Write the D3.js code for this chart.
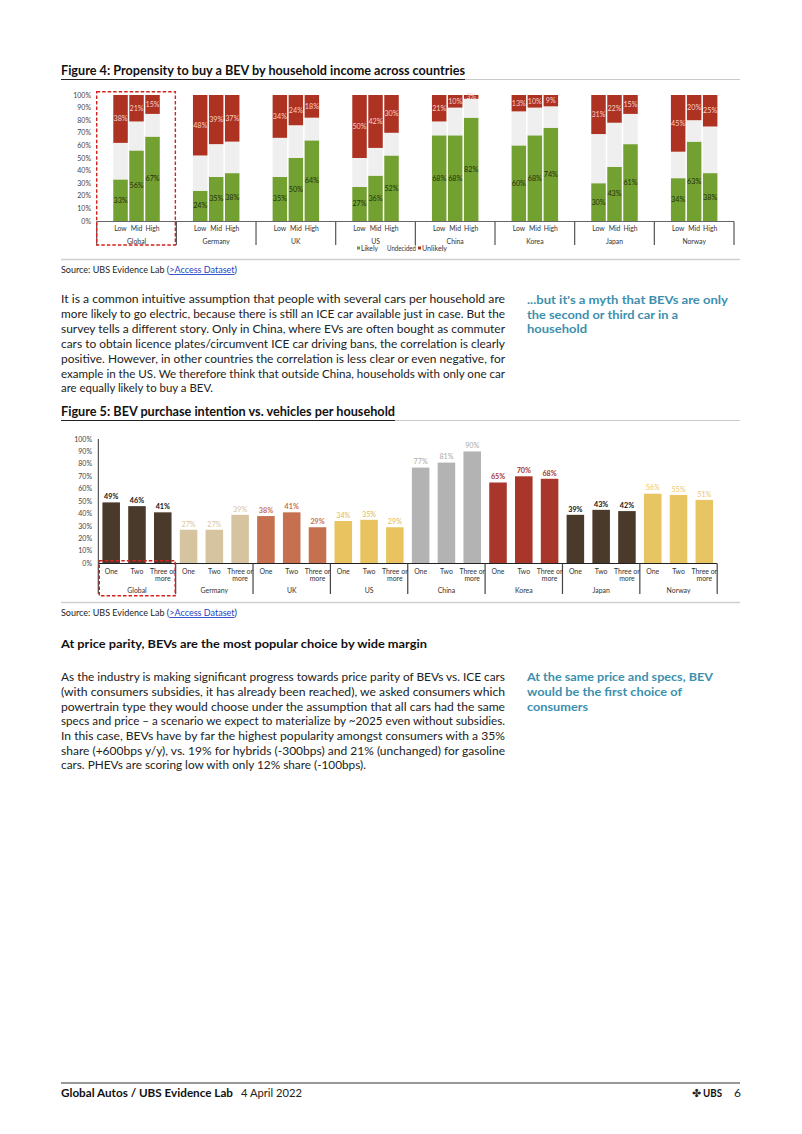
<!DOCTYPE html>
<html>
<head>
<meta charset="utf-8">
<script src="https://cdn.jsdelivr.net/npm/d3@7"></script>
<style>
  html, body { margin:0; padding:0; background:#fff; }
  svg { display:block; }
  text { font-family: Lato, "Open Sans", sans-serif; }
</style>
</head>
<body>
<svg id="page" width="802" height="1134"></svg>
<script>
// ---------- DATA ----------
const incomeCountries = ["Global","Germany","UK","US","China","Korea","Japan","Norway"];
const incomeLevels = ["Low","Mid","High"];
const likelyShare = [
  [33,56,67],[24,35,38],[35,50,64],[27,36,52],[68,68,82],[60,68,74],[30,43,61],[34,63,38]
];
const unlikelyShare = [
  [38,21,15],[48,39,37],[34,24,18],[50,42,30],[21,10,3],[13,10,9],[31,22,15],[45,20,25]
];
const legendKeys = ["Likely","Undecided","Unlikely"];

const vehCountries = ["Global","Germany","UK","US","China","Korea","Japan","Norway"];
const vehLevels = ["One","Two","Three or more"];
const vehIntention = [
  [49,46,41],[27,27,39],[38,41,29],[34,35,29],[77,81,90],[65,70,68],[39,43,42],[56,55,51]
];
const yTickValues = [0,10,20,30,40,50,60,70,80,90,100];

// ---------- STYLE ----------
const stackColors = {Likely:"#72a031", Undecided:"#efefef", Unlikely:"#ad3222"};
const vehBarColors = {Global:"#4a3a2c",Germany:"#d6c4a1",UK:"#c7704f",US:"#e8c35f",China:"#b3b3b3",Korea:"#a8362a",Japan:"#4a3a2c",Norway:"#e8c563"};
const vehLabelColors = {Global:"#111",Germany:"#d9c4a0",UK:"#c7704f",US:"#e2b95a",China:"#aaaaaa",Korea:"#a8362a",Japan:"#111",Norway:"#ecca6c"};
const vehLabelBold = {Global:700,Germany:400,UK:700,US:400,China:400,Korea:700,Japan:700,Norway:400};

const svg = d3.select("#page");
const pct = d => d + "%";

// text helper: if a target length is given, shrink font when the natural width is too wide, then fit exactly
function txt(g, x, y, s, o = {}) {
  const fs = o.size || 12;
  const t = g.append("text").attr("x", x).attr("y", y).text(s)
    .attr("font-size", fs)
    .attr("fill", o.fill || "#111")
    .attr("font-weight", o.weight || 400)
    .attr("text-anchor", o.anchor || "start");
  if (o.family) t.attr("font-family", o.family);
  if (o.len) {
    if (o.shrink) {
      const nat = t.node().getComputedTextLength();
      if (nat > o.len) t.attr("font-size", Math.max(fs * 0.85, fs * o.len / nat));
    }
    t.attr("textLength", o.len).attr("lengthAdjust", "spacingAndGlyphs");
  }
  return t;
}

function titleBlock(y, label, titleEnd) {
  txt(svg, 61, y, label, {size:12.5, weight:700, len: titleEnd - 61});
  svg.append("line").attr("x1",61).attr("x2",740).attr("y1",y+4.5).attr("y2",y+4.5).attr("stroke","#c9c9c9").attr("stroke-width",1);
  svg.append("line").attr("x1",61).attr("x2",titleEnd).attr("y1",y+4.5).attr("y2",y+4.5).attr("stroke","#222").attr("stroke-width",1);
}

function sourceLine(y) {
  const t = svg.append("text").attr("x",61).attr("y",y).attr("font-size",8.8).attr("fill","#222")
    .attr("textLength",176).attr("lengthAdjust","spacingAndGlyphs");
  t.append("tspan").text("Source: UBS Evidence Lab (");
  t.append("tspan").text(">Access Dataset").attr("fill","#1d3fc4").style("text-decoration","underline");
  t.append("tspan").text(")");
}

// ================= FIGURE 4 =================
titleBlock(75, "Figure 4: Propensity to buy a BEV by household income across countries", 465);

const g4 = svg.append("g");
const x4 = d3.scaleBand().domain(incomeCountries).range([96.7, 734]).padding(0);
const x4in = d3.scaleBand().domain(incomeLevels).range([0, x4.bandwidth()]).paddingInner(0.094).paddingOuter(1.037);
const y4 = d3.scaleLinear().domain([0,100]).range([221, 95]);

const rows4 = incomeCountries.flatMap((c,i) => incomeLevels.map((l,j) => ({
  country:c, level:l,
  Likely: likelyShare[i][j],
  Unlikely: unlikelyShare[i][j],
  Undecided: 100 - likelyShare[i][j] - unlikelyShare[i][j]
})));
const stack4 = d3.stack().keys(legendKeys)(rows4);

stack4.forEach(layer => {
  g4.append("g").selectAll("rect").data(layer).join("rect")
    .attr("x", d => x4(d.data.country) + x4in(d.data.level))
    .attr("width", x4in.bandwidth())
    .attr("y", d => y4(d[1]))
    .attr("height", d => y4(d[0]) - y4(d[1]))
    .attr("fill", stackColors[layer.key]);
});
stack4.forEach(layer => {
  if (layer.key === "Undecided") return;
  g4.append("g").selectAll("text").data(layer).join("text")
    .attr("x", d => x4(d.data.country) + x4in(d.data.level) + x4in.bandwidth()/2)
    .attr("y", d => y4((d[0]+d[1])/2) + 2.5)
    .attr("text-anchor","middle")
    .attr("font-size", 7.2)
    .attr("fill", layer.key === "Likely" ? "#24320c" : "#f6cfc6")
    .text(d => pct(d.data[layer.key]));
});
g4.append("g").selectAll("text").data(yTickValues).join("text")
  .attr("x", 91).attr("y", d => y4(d) + 2.5).attr("text-anchor","end")
  .attr("font-size", 7).attr("fill","#444").text(pct);
g4.append("line").attr("x1", x4.range()[0]).attr("x2", x4.range()[1]).attr("y1", 221.5).attr("y2", 221.5).attr("stroke","#666").attr("stroke-width",1);
const sep4 = incomeCountries.map(c => x4(c)).concat([x4.range()[1]]);
g4.append("g").selectAll("line").data(sep4).join("line")
  .attr("x1", d => d).attr("x2", d => d).attr("y1", 221.5).attr("y2", 245)
  .attr("stroke","#555").attr("stroke-width",1.2);
g4.append("g").selectAll("text").data(rows4).join("text")
  .attr("x", d => x4(d.country) + x4in(d.level) + x4in.bandwidth()/2)
  .attr("y", 231).attr("text-anchor","middle").attr("font-size",6.8).attr("fill","#333")
  .text(d => d.level);
g4.append("g").selectAll("text").data(incomeCountries).join("text")
  .attr("x", d => x4(d) + x4.bandwidth()/2).attr("y", 243.5).attr("text-anchor","middle")
  .attr("font-size",6.8).attr("fill","#333").text(d => d);
// legend
const leg = g4.append("g");
const legMarkX = [357, null, 418];
const legTextX = [361, 387, 422];
const legTextLen = [17, 29, 25];
legendKeys.forEach((k,i) => {
  if (legMarkX[i] !== null) {
    leg.append("rect").attr("x", legMarkX[i]).attr("y", 246.5).attr("width",3).attr("height",3).attr("fill", stackColors[k]);
  }
  txt(leg, legTextX[i], 250.5, k, {size:6.8, fill:"#333", len: legTextLen[i]});
});
g4.append("rect").attr("x", x4("Global")).attr("y", 91.7).attr("width", x4.bandwidth() - 1).attr("height", 153.3)
  .attr("fill","none").attr("stroke","#d3211d").attr("stroke-width",1.4).attr("stroke-dasharray","3.5,2");

svg.append("line").attr("x1",61).attr("x2",740).attr("y1",259.5).attr("y2",259.5).attr("stroke","#cfcfcf").attr("stroke-width",1.3);
sourceLine(273);

// ================= TEXT 1 =================
const para1 = [
  "It is a common intuitive assumption that people with several cars per household are",
  "more likely to go electric, because there is still an ICE car available just in case. But the",
  "survey tells a different story. Only in China, where EVs are often bought as commuter",
  "cars to obtain licence plates/circumvent ICE car driving bans, the correlation is clearly",
  "positive. However, in other countries the correlation is less clear or even negative, for",
  "example in the US. We therefore think that outside China, households with only one car",
  "are equally likely to buy a BEV."
];
const para1Y = [303, 318, 333, 348, 362.5, 377.5, 392];
para1.forEach((s,i) => txt(svg, 61, para1Y[i], s, {size:11.8, fill:"#222", len: i < 6 ? 444 : 152}));
const note1 = ["...but it's a myth that BEVs are only","the second or third car in a","household"];
const note1Len = [201, 151, 60];
note1.forEach((s,i) => txt(svg, 527, [304, 318.5, 333][i], s, {size:11.8, weight:700, fill:"#3d8fae", len: note1Len[i], shrink:true}));

// ================= FIGURE 5 =================
titleBlock(416, "Figure 5: BEV purchase intention vs. vehicles per household", 395);

const g5 = svg.append("g");
const x5 = d3.scaleBand().domain(vehCountries).range([98.3, 717.2]).padding(0);
const x5in = d3.scaleBand().domain(vehLevels).range([0, x5.bandwidth()]).paddingInner(0.32).paddingOuter(0.16);
const y5 = d3.scaleLinear().domain([0,100]).range([563.3, 439]);

const rows5 = vehCountries.flatMap((c,i) => vehLevels.map((l,j) => ({country:c, level:l, value: vehIntention[i][j]})));

g5.append("g").selectAll("rect").data(rows5).join("rect")
  .attr("x", d => x5(d.country) + x5in(d.level))
  .attr("width", x5in.bandwidth())
  .attr("y", d => y5(d.value))
  .attr("height", d => y5(0) - y5(d.value))
  .attr("fill", d => vehBarColors[d.country]);
g5.append("g").selectAll("text").data(rows5).join("text")
  .attr("x", d => x5(d.country) + x5in(d.level) + x5in.bandwidth()/2)
  .attr("y", d => y5(d.value) - 3.2)
  .attr("text-anchor","middle").attr("font-size",7.2)
  .attr("font-weight", d => vehLabelBold[d.country])
  .attr("fill", d => vehLabelColors[d.country])
  .text(d => pct(d.value));
g5.append("g").selectAll("text").data(yTickValues).join("text")
  .attr("x", 92).attr("y", d => y5(d) + 2.5).attr("text-anchor","end")
  .attr("font-size", 7).attr("fill","#444").text(pct);
g5.append("line").attr("x1",98.3).attr("x2",98.3).attr("y1",y5(100)).attr("y2",y5(0)).attr("stroke","#333").attr("stroke-width",1);
g5.append("line").attr("x1", x5.range()[0]).attr("x2", x5.range()[1]).attr("y1", 563.5).attr("y2", 563.5).attr("stroke","#222").attr("stroke-width",1);
const sep5 = vehCountries.map(c => x5(c)).concat([x5.range()[1]]);
g5.append("g").selectAll("line").data(sep5).join("line")
  .attr("x1", d => d).attr("x2", d => d).attr("y1", 563.5).attr("y2", 594)
  .attr("stroke","#444").attr("stroke-width",1.2);
const cat5 = g5.append("g").selectAll("text").data(rows5).join("text")
  .attr("x", d => x5(d.country) + x5in(d.level) + x5in.bandwidth()/2)
  .attr("y", 574).attr("text-anchor","middle").attr("font-size",6.9).attr("fill","#333");
cat5.each(function(d) {
  const words = d.level === "Three or more" ? ["Three or","more"] : [d.level];
  const t = d3.select(this);
  words.forEach((w,k) => t.append("tspan").attr("x", t.attr("x")).attr("dy", k === 0 ? 0 : 7.2).text(w));
});
g5.append("g").selectAll("text").data(vehCountries).join("text")
  .attr("x", d => x5(d) + x5.bandwidth()/2).attr("y", 592.5).attr("text-anchor","middle")
  .attr("font-size",6.9).attr("fill","#333").text(d => d);
g5.append("rect").attr("x", x5("Global") + 1).attr("y", 560.7).attr("width", x5.bandwidth() - 1.5).attr("height", 35)
  .attr("fill","none").attr("stroke","#d3211d").attr("stroke-width",1.4).attr("stroke-dasharray","3.5,2");

svg.append("line").attr("x1",61).attr("x2",740).attr("y1",602.5).attr("y2",602.5).attr("stroke","#cfcfcf").attr("stroke-width",1.3);
sourceLine(616);

// ================= TEXT 2 =================
txt(svg, 61, 648, "At price parity, BEVs are the most popular choice by wide margin", {size:12, weight:700, fill:"#111", len: 366});
const para2 = [
  "As the industry is making significant progress towards price parity of BEVs vs. ICE cars",
  "(with consumers subsidies, it has already been reached), we asked consumers which",
  "powertrain type they would choose under the assumption that all cars had the same",
  "specs and price \u2013 a scenario we expect to materialize by ~2025 even without subsidies.",
  "In this case, BEVs have by far the highest popularity amongst consumers with a 35%",
  "share (+600bps y/y), vs. 19% for hybrids (-300bps) and 21% (unchanged) for gasoline",
  "cars. PHEVs are scoring low with only 12% share (-100bps)."
];
const para2Y = [681, 696, 710.5, 725, 739.5, 754.5, 769];
para2.forEach((s,i) => txt(svg, 61, para2Y[i], s, {size:11.8, fill:"#222", len: i < 6 ? 444 : 305}));
const note2 = ["At the same price and specs, BEV","would be the first choice of","consumers"];
const note2Len = [186, 155, 61];
note2.forEach((s,i) => txt(svg, 527, [681, 696, 710.5][i], s, {size:11.8, weight:700, fill:"#3d8fae", len: note2Len[i], shrink:true}));

// ================= FOOTER =================
svg.append("line").attr("x1",61).attr("x2",740).attr("y1",1083).attr("y2",1083).attr("stroke","#333").attr("stroke-width",1);
txt(svg, 61, 1097, "Global Autos / UBS Evidence Lab", {size:12, weight:700, fill:"#111", len:172, shrink:true});
txt(svg, 241, 1097, "4 April 2022", {size:12, fill:"#222", len:61, shrink:true});
txt(svg, 691.5, 1097, "\u2724", {size:11, fill:"#222", family:"DejaVu Sans"});
svg.append("text").attr("x",703).attr("y",1097).attr("font-family","Liberation Serif, DejaVu Serif, serif")
  .attr("font-size",12).attr("font-weight",700).attr("fill","#111").attr("textLength",19).attr("lengthAdjust","spacingAndGlyphs").text("UBS");
txt(svg, 734, 1097, "6", {size:12, fill:"#222"});
</script>
</body>
</html>
